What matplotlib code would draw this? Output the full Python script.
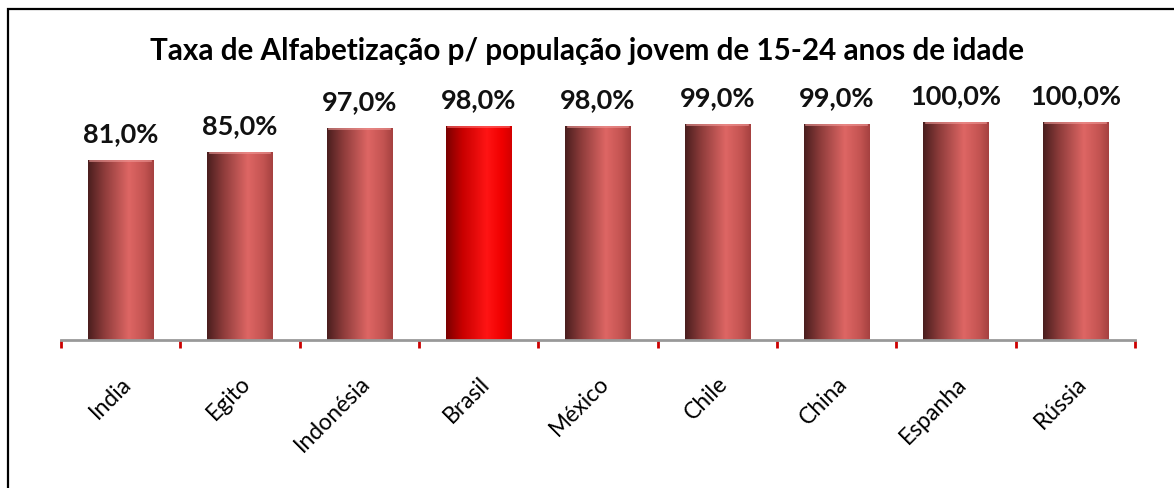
import numpy as np
import matplotlib
matplotlib.use('Agg')
import matplotlib.pyplot as plt
from matplotlib.colors import LinearSegmentedColormap
from matplotlib.patches import Rectangle

paises = ['India', 'Egito', 'Indonésia', 'Brasil', 'México', 'Chile', 'China', 'Espanha', 'Rússia']
taxa = [81.0, 85.0, 97.0, 98.0, 98.0, 99.0, 99.0, 100.0, 100.0]
destaque = 'Brasil'
titulo = 'Taxa de Alfabetização p/ população jovem de 15-24 anos de idade'

plt.rcParams['font.family'] = ['Lato', 'DejaVu Sans']

# gradientes horizontais para simular o cilindro
cil_normal = LinearSegmentedColormap.from_list('cil_normal', [
    (0.0, '#4a1e1e'), (0.25, '#8e3c3b'), (0.62, '#de6664'), (0.85, '#c45452'), (1.0, '#a54140')])
cil_destaque = LinearSegmentedColormap.from_list('cil_destaque', [
    (0.0, '#7a0000'), (0.25, '#c80000'), (0.62, '#ff1414'), (0.85, '#f00000'), (1.0, '#d20000')])

fig = plt.figure(figsize=(11.74, 4.89), dpi=100)
ax = fig.add_axes([0.052, 0.3027, 0.9148, 0.6563])

base = -9
topo = 151.5
largura = 0.55
grad = np.linspace(0, 1, 256).reshape(1, -1)

for i, (p, v) in enumerate(zip(paises, taxa)):
    cmap = cil_destaque if p == destaque else cil_normal
    ax.imshow(grad, cmap=cmap, aspect='auto', interpolation='bilinear',
              extent=[i - largura / 2, i + largura / 2, base, v], zorder=2)
    # brilho do topo
    ax.plot([i - largura / 2 + 0.02, i + largura / 2 - 0.02], [v - 0.6, v - 0.6],
            color='#f09a98' if p != destaque else '#ff7070', lw=1.2, alpha=0.7, zorder=3)
    ax.annotate(f'{v:.1f}%'.replace('.', ','), (i, v), xytext=(0, 11), textcoords='offset points',
                ha='center', va='bottom', fontsize=19.5, fontweight='bold', color='#111111')

ax.set_xlim(-0.5, len(paises) - 0.5)
ax.set_ylim(base, topo)

for s in ['top', 'left', 'right']:
    ax.spines[s].set_visible(False)
ax.spines['bottom'].set_color('#999999')
ax.spines['bottom'].set_linewidth(2)
ax.spines['bottom'].set_zorder(4)

ax.set_yticks([])
ax.set_xticks(range(len(paises)))
ax.set_xticklabels(paises, rotation=45, ha='right', rotation_mode='anchor', fontsize=16.5)
ax.tick_params(axis='x', which='major', length=0, pad=23)
ax.set_xticks(np.arange(-0.5, len(paises)), minor=True)
ax.tick_params(axis='x', which='minor', length=6, width=2, color='#cc0000', direction='out')

fig.text(0.5, 0.896, titulo, ha='center', va='center', fontsize=21.3, fontweight='bold')

# moldura do gráfico
fig.patches.append(Rectangle((8 / 1174, -0.2), 1.5, 0.2 + 1 - 10 / 489, transform=fig.transFigure,
                             fill=False, edgecolor='black', lw=1.6, clip_on=False))

fig.savefig('out.png', dpi=100, facecolor='white')
